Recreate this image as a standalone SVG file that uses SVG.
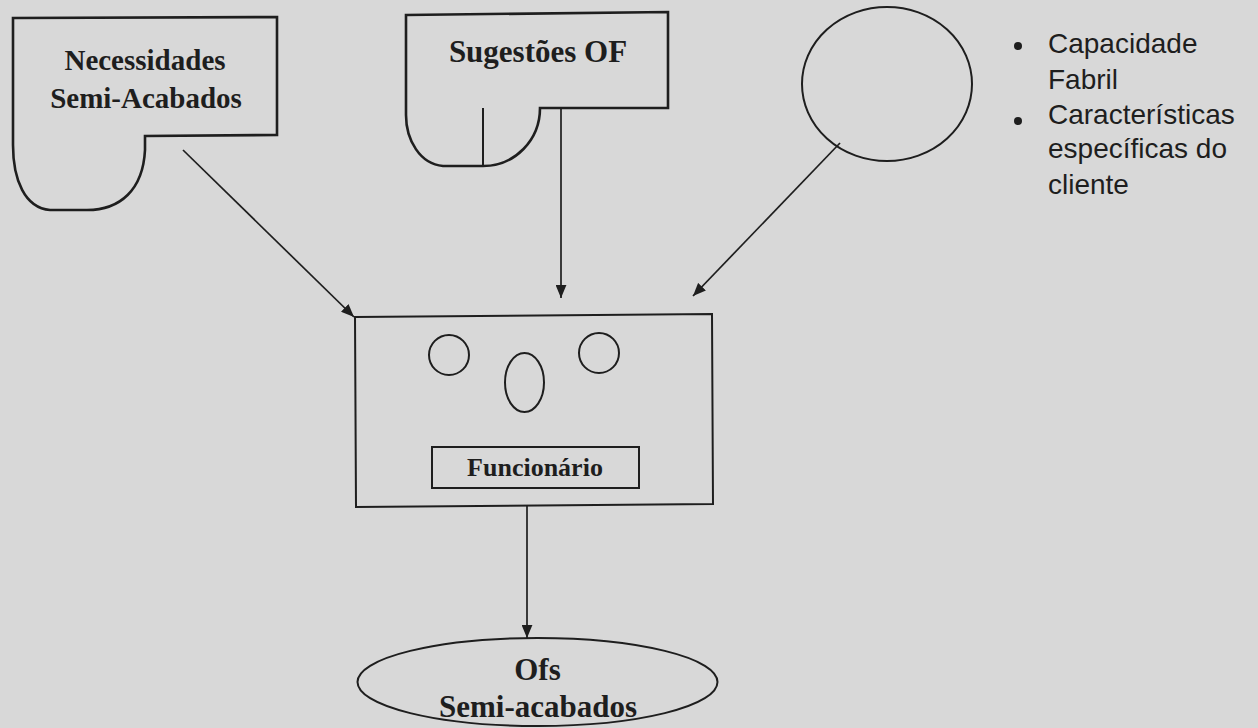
<svg xmlns="http://www.w3.org/2000/svg" width="1258" height="728" viewBox="0 0 1258 728">
  <defs>
    <marker id="arrow" viewBox="0 0 12 10" refX="12" refY="5" markerWidth="13" markerHeight="11" markerUnits="userSpaceOnUse" orient="auto">
      <path d="M0,0 L12,5 L0,10 Z" fill="#1e1e1e"/>
    </marker>
    <style>
      .shape { fill: none; stroke: #1e1e1e; stroke-width: 2.6; stroke-linejoin: miter; }
      .thin { fill: none; stroke: #1e1e1e; stroke-width: 2; }
      .conn { fill: none; stroke: #1e1e1e; stroke-width: 1.7; marker-end: url(#arrow); }
      .label { font-family: "Liberation Serif", "Times New Roman", serif; font-weight: bold; fill: #1e1e1e; text-anchor: middle; }
      .note { font-family: "Liberation Sans", Arial, sans-serif; font-size: 28px; fill: #1e1e1e; }
    </style>
  </defs>

  <rect x="0" y="0" width="1258" height="728" fill="#d8d8d8"/>

  <!-- document-shaped input: requirements -->
  <g id="necessidades">
    <path class="shape" d="M13,18 L277,17 L277,135 L145,136 L145,150 C143,190 120,210 87,210 L50,210 C25,208 13,180 13,145 Z"/>
    <text class="label" font-size="29" x="145" y="70">Necessidades</text>
    <text class="label" font-size="29" x="146" y="108">Semi-Acabados</text>
  </g>

  <!-- document-shaped input: suggestions -->
  <g id="sugestoes">
    <path class="shape" d="M406,15 L668,12 L668,108 L540,108 C540,140 515,166 483,166 L443,166 C420,164 406,140 406,115 Z"/>
    <line class="thin" x1="483" y1="108" x2="483" y2="166"/>
    <text class="label" font-size="31" x="538" y="62">Sugestões OF</text>
  </g>

  <!-- knowledge source -->
  <g id="conhecimento">
    <ellipse class="thin" cx="887" cy="84" rx="85" ry="77"/>
  </g>

  <g id="notas">
    <circle cx="1018" cy="46" r="4" fill="#1e1e1e"/>
    <circle cx="1018" cy="121" r="4" fill="#1e1e1e"/>
    <text class="note" x="1048" y="53">Capacidade</text>
    <text class="note" x="1048" y="89">Fabril</text>
    <text class="note" x="1048" y="124">Características</text>
    <text class="note" x="1048" y="158">específicas do</text>
    <text class="note" x="1048" y="194">cliente</text>
  </g>

  <!-- operator -->
  <g id="funcionario">
    <polygon class="thin" points="355,317 712,314 713,504 356,507"/>
    <ellipse class="thin" cx="449" cy="355" rx="20" ry="20"/>
    <ellipse class="thin" cx="599" cy="353" rx="20" ry="20"/>
    <ellipse class="thin" cx="524.5" cy="382.5" rx="19.5" ry="29.5"/>
    <rect class="thin" x="432" y="447" width="207" height="41"/>
    <text class="label" font-size="26" x="535" y="476">Funcionário</text>
  </g>

  <!-- output -->
  <g id="ofs">
    <ellipse class="thin" cx="537.5" cy="682" rx="180" ry="44"/>
    <text class="label" font-size="31" x="537.5" y="680">Ofs</text>
    <text class="label" font-size="31" x="538" y="717">Semi-acabados</text>
  </g>

  <g id="connectors">
    <line class="conn" x1="183" y1="150" x2="354" y2="317"/>
    <line class="conn" x1="561" y1="108" x2="561" y2="298"/>
    <line class="conn" x1="840" y1="143" x2="693" y2="296"/>
    <line class="conn" x1="527" y1="505" x2="527" y2="638"/>
  </g>
</svg>
